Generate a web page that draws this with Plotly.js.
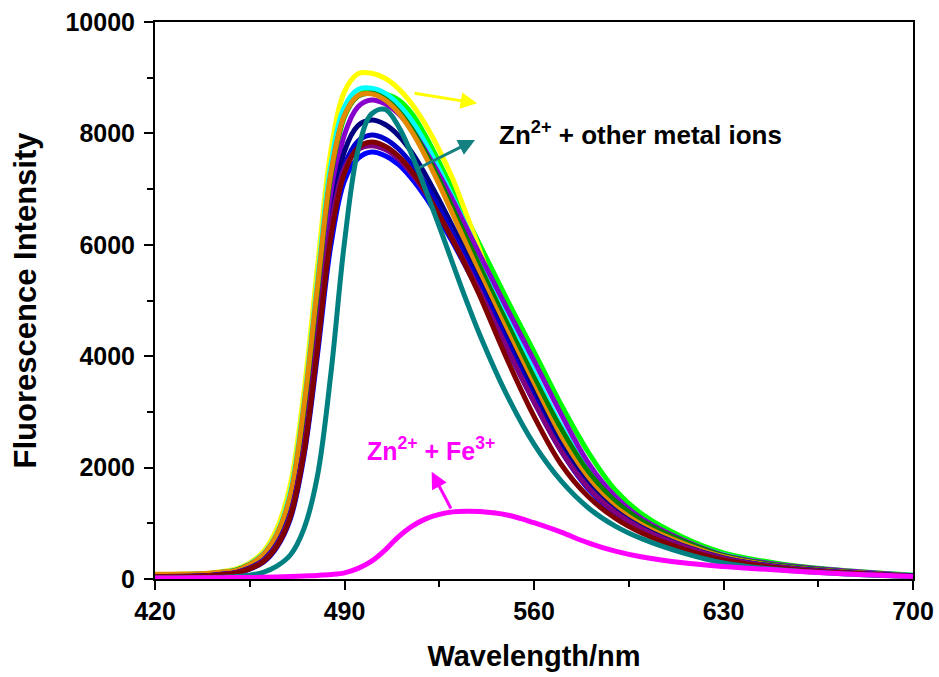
<!DOCTYPE html>
<html>
<head>
<meta charset="utf-8">
<script src="https://cdn.plot.ly/plotly-3.0.1.min.js"></script>
<style>html,body{margin:0;padding:0;background:#fff;}#chart{width:939px;height:677px;}</style>
</head>
<body>
<div id="chart"></div>
<script>
// Wavelength (nm) sample points
const wavelength = [420, 430, 440, 445, 450, 455, 460, 465, 470, 475, 480, 485, 490, 495, 500, 505, 510, 515, 520, 525, 530, 535, 540, 550, 560, 570, 580, 590, 600, 615, 630, 650, 670, 700];

// Fluorescence intensity series
const greenS   = [60, 65, 82, 105, 140, 235, 400, 740, 1400, 2900, 5050, 7150, 8300, 8680, 8760, 8710, 8600, 8350, 7950, 7480, 6990, 6490, 6000, 5020, 4080, 3130, 2280, 1600, 1160, 750, 470, 280, 170, 70];
const yellowS  = [80, 85, 105, 135, 180, 290, 490, 900, 1700, 3350, 5600, 7700, 8750, 9070, 9080, 8990, 8800, 8520, 8150, 7700, 7180, 6550, 5900, 4600, 3580, 2620, 1880, 1360, 1010, 660, 415, 240, 145, 58];
const cyanS    = [75, 80, 100, 128, 165, 270, 455, 820, 1560, 3150, 5350, 7450, 8480, 8790, 8810, 8720, 8520, 8220, 7820, 7350, 6850, 6330, 5800, 4750, 3720, 2750, 1960, 1420, 1060, 690, 435, 252, 153, 62];
const violetS  = [40, 42, 58, 80, 112, 190, 330, 620, 1170, 2400, 4450, 6700, 7980, 8480, 8600, 8530, 8350, 8060, 7680, 7260, 6800, 6310, 5820, 4860, 3920, 2960, 2090, 1480, 1080, 700, 430, 260, 165, 60];
const dkgreenS = [70, 75, 95, 120, 160, 260, 430, 790, 1480, 3000, 5150, 7250, 8320, 8670, 8720, 8620, 8400, 8070, 7640, 7160, 6650, 6130, 5610, 4600, 3620, 2700, 1930, 1400, 1040, 680, 420, 245, 150, 58];
const orangeS  = [85, 88, 105, 128, 155, 260, 440, 800, 1500, 3100, 5250, 7300, 8330, 8680, 8710, 8600, 8370, 8020, 7580, 7080, 6550, 6010, 5470, 4450, 3450, 2520, 1790, 1300, 970, 640, 400, 230, 140, 55];
const navyS    = [45, 47, 62, 84, 115, 192, 330, 615, 1150, 2320, 4250, 6350, 7680, 8140, 8240, 8160, 7960, 7650, 7250, 6800, 6320, 5820, 5320, 4310, 3330, 2400, 1700, 1230, 920, 600, 380, 220, 132, 52];
const brblueS  = [40, 42, 56, 77, 106, 178, 300, 570, 1080, 2200, 4020, 6000, 7150, 7550, 7665, 7600, 7440, 7180, 6850, 6460, 6040, 5590, 5120, 4140, 3180, 2300, 1620, 1180, 890, 580, 365, 212, 128, 48];
const blueS    = [45, 48, 64, 88, 120, 200, 340, 630, 1180, 2350, 4250, 6250, 7420, 7860, 7970, 7900, 7720, 7440, 7080, 6660, 6210, 5750, 5270, 4260, 3250, 2330, 1650, 1200, 900, 590, 370, 215, 130, 50];
const dkmagS   = [42, 44, 60, 82, 114, 190, 325, 610, 1150, 2350, 4300, 6350, 7380, 7710, 7780, 7710, 7540, 7270, 6930, 6530, 6100, 5640, 5160, 4150, 3180, 2300, 1640, 1200, 900, 590, 370, 215, 130, 50];
const dkredS   = [40, 42, 57, 79, 110, 182, 310, 585, 1110, 2250, 4120, 6150, 7290, 7740, 7845, 7770, 7590, 7310, 6950, 6530, 6080, 5600, 5080, 3950, 2920, 2060, 1480, 1090, 820, 540, 340, 200, 120, 45];
const tealS    = [20, 22, 27, 33, 45, 70, 120, 230, 430, 900, 1850, 3700, 6050, 7700, 8350, 8430, 8120, 7600, 6980, 6330, 5660, 5000, 4380, 3300, 2420, 1760, 1280, 950, 720, 470, 290, 170, 105, 40];
const znFeS    = [20, 20, 22, 24, 26, 28, 30, 36, 45, 55, 65, 80, 110, 190, 320, 520, 760, 950, 1080, 1160, 1205, 1218, 1210, 1150, 1010, 840, 650, 500, 395, 290, 225, 160, 105, 45];

// Tick values
const xTicks = [420, 490, 560, 630, 700];
const xMinor = [455, 525, 595, 665];
const yTicks = [0, 2000, 4000, 6000, 8000, 10000];

const seriesList = [
  {y: greenS,   color: '#00FF00'},
  {y: yellowS,  color: '#FFFF00'},
  {y: cyanS,    color: '#00FFFF'},
  {y: violetS,  color: '#8800CC'},
  {y: dkgreenS, color: '#008000'},
  {y: orangeS,  color: '#E38A00'},
  {y: navyS,    color: '#000080'},
  {y: brblueS,  color: '#0000FF'},
  {y: blueS,    color: '#0000CD'},
  {y: dkmagS,   color: '#800080'},
  {y: dkredS,   color: '#800000'},
  {y: tealS,    color: '#008080'},
  {y: znFeS,    color: '#FF00FF'}
];

const traces = seriesList.map(s => ({
  x: wavelength, y: s.y, type: 'scatter', mode: 'lines',
  line: {color: s.color, width: 5, shape: 'spline', smoothing: 1},
  hoverinfo: 'skip', showlegend: false
}));

const FONT = 'Liberation Sans, Arial, Helvetica, sans-serif';

const layout = {
  width: 939, height: 677,
  margin: {l: 155, r: 26, t: 22, b: 98},
  paper_bgcolor: '#ffffff', plot_bgcolor: '#ffffff',
  showlegend: false,
  font: {family: FONT, color: '#000'},
  xaxis: {
    range: [420, 700], tickvals: xTicks, ticktext: xTicks.map(String),
    ticks: 'outside', ticklen: 9, tickwidth: 2, tickcolor: '#000',
    showline: true, linewidth: 2, linecolor: '#000', mirror: true,
    showgrid: false, zeroline: false,
    minor: {tickvals: xMinor, ticks: 'outside', ticklen: 6, tickwidth: 2, tickcolor: '#000', showgrid: false},
    tickfont: {family: FONT, size: 25, weight: 'bold', color: '#000'},
    title: {text: 'Wavelength/nm', font: {family: FONT, size: 29, weight: 'bold', color: '#000'}, standoff: 22},
    automargin: false
  },
  yaxis: {
    range: [0, 10000], tickvals: yTicks, ticktext: yTicks.map(String),
    ticks: 'outside', ticklen: 9, tickwidth: 2, tickcolor: '#000',
    ticklabelstandoff: 4,
    showline: true, linewidth: 2, linecolor: '#000', mirror: true,
    showgrid: false, zeroline: false,
    minor: {dtick: 1000, tick0: 0, ticks: 'outside', ticklen: 6, tickwidth: 2, tickcolor: '#000', showgrid: false},
    tickfont: {family: FONT, size: 25, weight: 'bold', color: '#000'},
    title: {text: 'Fluorescence Intensity', font: {family: FONT, size: 31, weight: 'bold', color: '#000'}, standoff: 20},
    automargin: false
  },
  annotations: [
    {x: 546.3, y: 8007, xref: 'x', yref: 'y', xanchor: 'left', yanchor: 'middle',
     text: 'Zn<sup>2+</sup> + other metal ions', showarrow: false,
     font: {family: FONT, size: 26, weight: 'bold', color: '#000'}},
    {x: 497.6, y: 2330, xref: 'x', yref: 'y', xanchor: 'left', yanchor: 'middle',
     text: 'Zn<sup>2+</sup> + Fe<sup>3+</sup>', showarrow: false,
     font: {family: FONT, size: 25, weight: 'bold', color: '#FF00FF'}},
    {x: 539.0, y: 8540, ax: 515.3, ay: 8725, xref: 'x', yref: 'y', axref: 'x', ayref: 'y',
     text: '', showarrow: true, arrowhead: 2, arrowsize: 1.1, arrowwidth: 3, arrowcolor: '#FFFF00'},
    {x: 538.2, y: 7882, ax: 516.0, ay: 7343, xref: 'x', yref: 'y', axref: 'x', ayref: 'y',
     text: '', showarrow: true, arrowhead: 2, arrowsize: 1.1, arrowwidth: 3, arrowcolor: '#158080'},
    {x: 522.2, y: 1926, ax: 529.6, ay: 1239, xref: 'x', yref: 'y', axref: 'x', ayref: 'y',
     text: '', showarrow: true, arrowhead: 2, arrowsize: 1.1, arrowwidth: 3, arrowcolor: '#FF00FF'}
  ]
};

Plotly.newPlot('chart', traces, layout, {displayModeBar: false, staticPlot: true});
</script>
</body>
</html>
